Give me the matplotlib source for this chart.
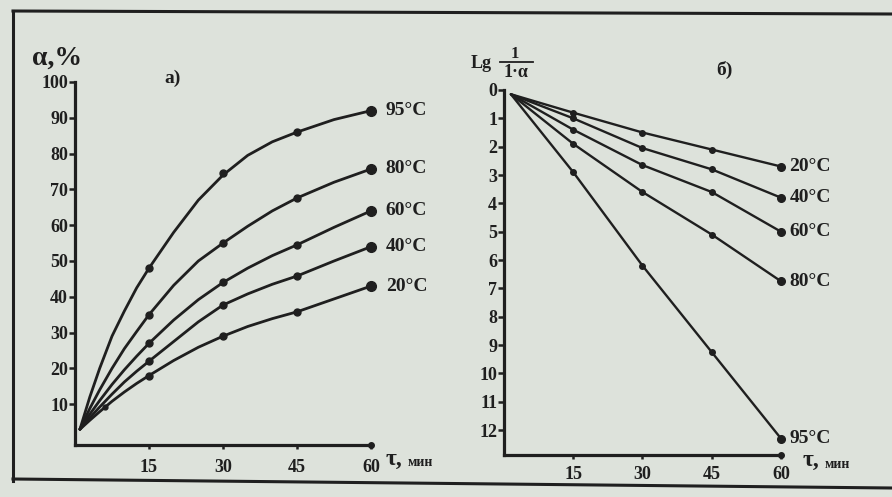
import matplotlib
matplotlib.use("Agg")
import matplotlib.pyplot as plt
from matplotlib.lines import Line2D

# panel a) conversion alpha, % vs time (curve read along its length)
t_curve = [1, 3, 5, 7.5, 10, 12.5, 15, 20, 25, 30, 35, 40, 45, 52.5, 60]
alpha_curves = {
    "95°C": [3, 12, 20, 29, 36, 42.5, 48, 58, 67, 74, 79.5, 83.3, 86, 89.5, 92],
    "80°C": [3, 8.8, 14, 20, 25.5, 30.3, 35, 43.2, 50, 55, 59.7, 64, 67.6, 72, 75.7],
    "60°C": [3, 7.2, 11, 15.5, 19.6, 23.4, 27, 33.5, 39.2, 44, 48, 51.5, 54.5, 59.4, 64],
    "40°C": [3, 6.2, 9.2, 12.8, 16.2, 19.2, 22, 27.5, 33, 37.7, 40.8, 43.5, 45.8, 50, 54],
    "20°C": [3, 5.5, 7.9, 10.8, 13.4, 15.8, 18, 22.2, 25.9, 29, 31.7, 33.9, 35.8, 39.4, 43],
}
t_pts = [15, 30, 45, 60]
alpha_pts = {
    "95°C": [48, 74.6, 86, 92],
    "80°C": [35, 55, 67.6, 75.7],
    "60°C": [27, 44, 54.5, 64],
    "40°C": [22, 37.7, 45.8, 54],
    "20°C": [18, 29, 35.8, 43],
}

# panel б) lg 1/(1-alpha) vs time
t_lin = [1.5, 15, 30, 45, 60]
lg_vals = {
    "20°C": [0.15, 0.8, 1.5, 2.1, 2.7],
    "40°C": [0.15, 1.0, 2.05, 2.8, 3.8],
    "60°C": [0.15, 1.4, 2.65, 3.6, 5.0],
    "80°C": [0.15, 1.9, 3.6, 5.1, 6.75],
    "95°C": [0.15, 2.9, 6.2, 9.25, 12.3],
}

W, H = 892, 497
BG = "#dde2db"
INK = "#1f1f1f"
FONT = "Liberation Serif"

plt.rcParams["font.family"] = [FONT, "DejaVu Serif"]
plt.rcParams["font.weight"] = "bold"


def box(l, t, r, b):
    return [l / W, 1 - b / H, (r - l) / W, (b - t) / H]


def px(x, y):
    return x / W, 1 - y / H


def style_axes(ax, ylo, yhi, yticks, xpad):
    ax.set_facecolor("none")
    for s in ["top", "right"]:
        ax.spines[s].set_visible(False)
    for s in ["left", "bottom"]:
        ax.spines[s].set_linewidth(2.3)
        ax.spines[s].set_color(INK)
    ax.set_xlim(0, 60)
    ax.set_ylim(ylo, yhi)
    ax.set_xticks([15, 30, 45, 60])
    ax.set_yticks(yticks)
    ax.tick_params(axis="y", direction="out", length=4, width=1.8, pad=1,
                   labelsize=13, colors=INK)
    ax.tick_params(axis="x", direction="out", length=3, width=1.8, pad=xpad,
                   labelsize=13, colors=INK)
    for lab in ax.get_xticklabels() + ax.get_yticklabels():
        lab.set_fontweight("bold")
    ax.plot([60], [ylo], "o", color=INK, ms=4, clip_on=False)


fig = plt.figure(figsize=(W / 100, H / 100), dpi=100, facecolor=BG)

# outer frame of the book figure
fig.add_artist(Line2D([13 / W, 13 / W], [1 - 11 / H, 1 - 481 / H], color=INK, lw=2.2))
fig.add_artist(Line2D([13 / W, 1.0], [1 - 11 / H, 1 - 14 / H], color=INK, lw=2.2))
fig.add_artist(Line2D([13 / W, 1.0], [1 - 479 / H, 1 - 488 / H], color=INK, lw=2.2))

# ---- panel a)
ax1 = fig.add_axes(box(75, 82, 371, 445))
style_axes(ax1, -1.4, 100, list(range(10, 101, 10)), 7)
for name, vals in alpha_curves.items():
    ax1.plot(t_curve, vals, color=INK, lw=2.0, solid_capstyle="round",
             solid_joinstyle="round")
    ax1.plot(t_pts[:-1], alpha_pts[name][:-1], "o", color=INK, ms=5)
    ax1.plot(t_pts[-1:], alpha_pts[name][-1:], "o", color=INK, ms=7, clip_on=False)
    ax1.text(63.0, alpha_pts[name][-1], name, fontsize=14, fontweight="bold",
             color=INK, va="center", ha="left", clip_on=False)
ax1.plot([6], [9.3], "o", color=INK, ms=3.5)

fig.text(*px(32, 58), "α,%", fontsize=20, fontweight="bold", color=INK,
         va="center", ha="left")
fig.text(*px(164, 78), "а)", fontsize=14, fontweight="bold", color=INK,
         va="center", ha="left")
fig.text(*px(386, 459), "τ,", fontsize=17, color=INK, va="center", ha="left")
fig.text(*px(408, 463), "мин", fontsize=10, fontweight="bold", color=INK,
         va="center", ha="left")

# ---- panel б)
ax2 = fig.add_axes(box(504, 90, 781, 455))
style_axes(ax2, 12.88, 0, list(range(0, 13)), 5)
for name, vals in lg_vals.items():
    ax2.plot(t_lin, vals, color=INK, lw=1.7, solid_capstyle="round")
    ax2.plot(t_lin[1:-1], vals[1:-1], "o", color=INK, ms=4)
    ax2.plot(t_lin[-1:], vals[-1:], "o", color=INK, ms=5.5, clip_on=False)
    ax2.text(61.8, vals[-1], name, fontsize=14, fontweight="bold",
             color=INK, va="center", ha="left", clip_on=False)

# axis title Lg 1/(1-α) written as a fraction
fig.text(*px(471, 64), "Lg", fontsize=13, fontweight="bold", color=INK,
         va="center", ha="left")
fig.text(*px(515, 54), "1", fontsize=12, fontweight="bold", color=INK,
         va="center", ha="center")
fig.add_artist(Line2D([500 / W, 533 / W], [1 - 62 / H, 1 - 62 / H], color=INK, lw=1.3))
fig.text(*px(516, 72), "1·α", fontsize=13, fontweight="bold", color=INK,
         va="center", ha="center")
fig.text(*px(716, 70), "б)", fontsize=14, fontweight="bold", color=INK,
         va="center", ha="left")
fig.text(*px(803, 460), "τ,", fontsize=17, color=INK, va="center", ha="left")
fig.text(*px(825, 464), "мин", fontsize=10, fontweight="bold", color=INK,
         va="center", ha="left")

fig.savefig("out.png", dpi=100, facecolor=BG)
